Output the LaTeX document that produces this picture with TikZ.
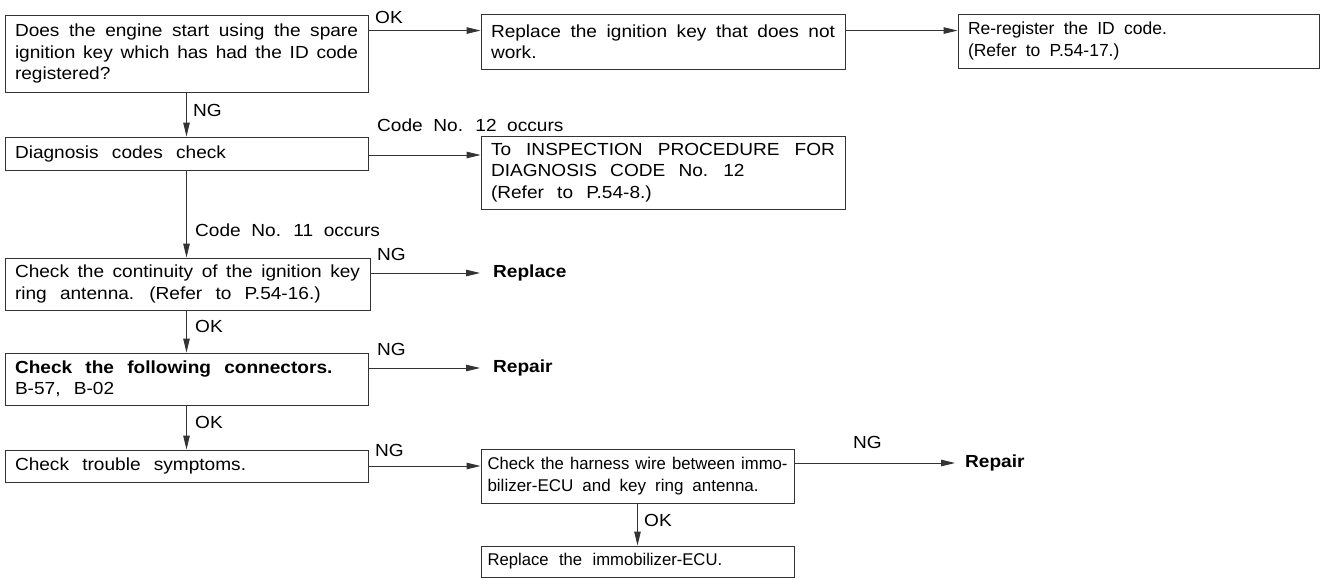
\documentclass[tikz,border=0pt]{standalone}
\usepackage{fontspec}
\setmainfont{Liberation Sans}[FakeStretch=1.09, WordSpace={2.5,2.5,3.5}]
\newfontfamily\lfont{Liberation Sans}[FakeStretch=1.09, WordSpace=2.0]
\newfontfamily\nfont{Liberation Sans}[WordSpace=1.85]
\newfontfamily\cfont{Liberation Sans}[WordSpace=1.9]
\newfontfamily\tfont{Liberation Sans}[FakeStretch=0.98]
\newfontfamily\jfont{Liberation Sans}[FakeStretch=0.98, WordSpace=1.5]
\usetikzlibrary{arrows.meta}
\newcommand{\jl}[1]{\hbox to\hsize{#1}\par}
\newcommand{\mfont}{\fontsize{17.5}{21.5}\selectfont}
\newcommand{\nsize}{\fontsize{17}{21.5}\selectfont}
\tikzset{
  box/.style={draw=black!80, line width=0.9pt, inner xsep=10pt, inner ysep=0pt, align=flush left, font=\mfont},
  nbox/.style={box, inner xsep=6.5pt, font=\nfont\nsize},
  lbl/.style={inner sep=0pt, anchor=west, font=\lfont\mfont},
  res/.style={lbl, inner xsep=13pt, font=\mfont\bfseries},
  arr/.style={draw=black!80, line width=0.9pt, -{Triangle[length=14pt,width=6.5pt]}}
}
\begin{document}
\begin{tikzpicture}[x=1pt, y=-1pt]
\useasboundingbox (0,0) rectangle (1327,578);
% boxes
\node[box, text width=343pt, minimum height=77pt] (A) at (186.5,53.5)
  {\jl{Does the engine start using the spare}\jl{ignition key which has had the ID code}registered?};
\node[box, text width=344pt, minimum height=55pt] (B) at (663,41.5)
  {\jl{Replace the ignition key that does not}work.};
\node[box, text width=341pt, minimum height=54pt, font=\cfont\mfont] (C) at (1138.5,41)
  {Re-register the ID code.\par(Refer to P.54-17.)};
\node[box, text width=343pt, minimum height=33pt] (D) at (186.5,153.5)
  {Diagnosis codes check};
\node[box, text width=344pt, minimum height=73pt] (E) at (663,172.5)
  {\jl{To INSPECTION PROCEDURE FOR}DIAGNOSIS CODE No. 12\par(Refer to P.54-8.)};
\node[box, text width=345pt, minimum height=52pt] (F) at (187.5,284)
  {\jl{Check the continuity of the ignition key}ring antenna. (Refer to P.54-16.)};
\node[box, text width=343pt, minimum height=52pt] (G) at (186.5,379)
  {\textbf{Check the following connectors.}\par B-57, B-02};
\node[box, text width=343pt, minimum height=32pt] (H) at (186.5,466)
  {Check trouble symptoms.};
\node[nbox, text width=300pt, minimum height=54pt] (I) at (637.5,476)
  {\jl{\tfont Check the harness wire between immo-}bilizer-ECU and key ring antenna.};
\node[nbox, text width=300pt, minimum height=31pt, font=\jfont\nsize] (J) at (637.5,561.5)
  {Replace the immobilizer-ECU.};
% result texts
\node[res] (R1) at (480,273) {Replace};
\node[res] (R2) at (480,368) {Repair};
\node[res, inner xsep=10pt] (R3) at (955,463) {Repair};
% labels
\node[lbl] (l1) at (375,17) {OK};
\node[lbl] (l2) at (193,110) {NG};
\node[lbl] (l3) at (377,125) {Code No. 12 occurs};
\node[lbl] (l4) at (195,230) {Code No. 11 occurs};
\node[lbl] (l5) at (377,254) {NG};
\node[lbl] (l6) at (195,326) {OK};
\node[lbl] (l7) at (377,349) {NG};
\node[lbl] (l8) at (195,422) {OK};
\node[lbl] (l9) at (375,450) {NG};
\node[lbl] (l10) at (853,442) {NG};
\node[lbl] (l11) at (644,520) {OK};
% connectors
\draw[arr] ([yshift=-16pt]A.north east) -- ([yshift=-16pt]A.north east -| B.west);
\draw[arr] ([yshift=-17pt]B.north east) -- ([yshift=-17pt]B.north east -| C.west);
\draw[arr] (A.south) -- (D.north);
\draw[arr] ([yshift=-1.5pt]D.east) -- ([yshift=-1.5pt]D.east -| E.west);
\draw[arr] (D.south) -- (D.south |- F.north);
\draw[arr] (F.east |- R1.west) -- (R1.west);
\draw[arr] (F.south -| D.south) -- (G.north);
\draw[arr] (G.east |- R2.west) -- (R2.west);
\draw[arr] (G.south) -- (H.north);
\draw[arr] (H.east) -- (H.east -| I.west);
\draw[arr] (I.east |- R3.west) -- (R3.west);
\draw[arr] (I.south) -- (J.north);
\end{tikzpicture}
\end{document}
